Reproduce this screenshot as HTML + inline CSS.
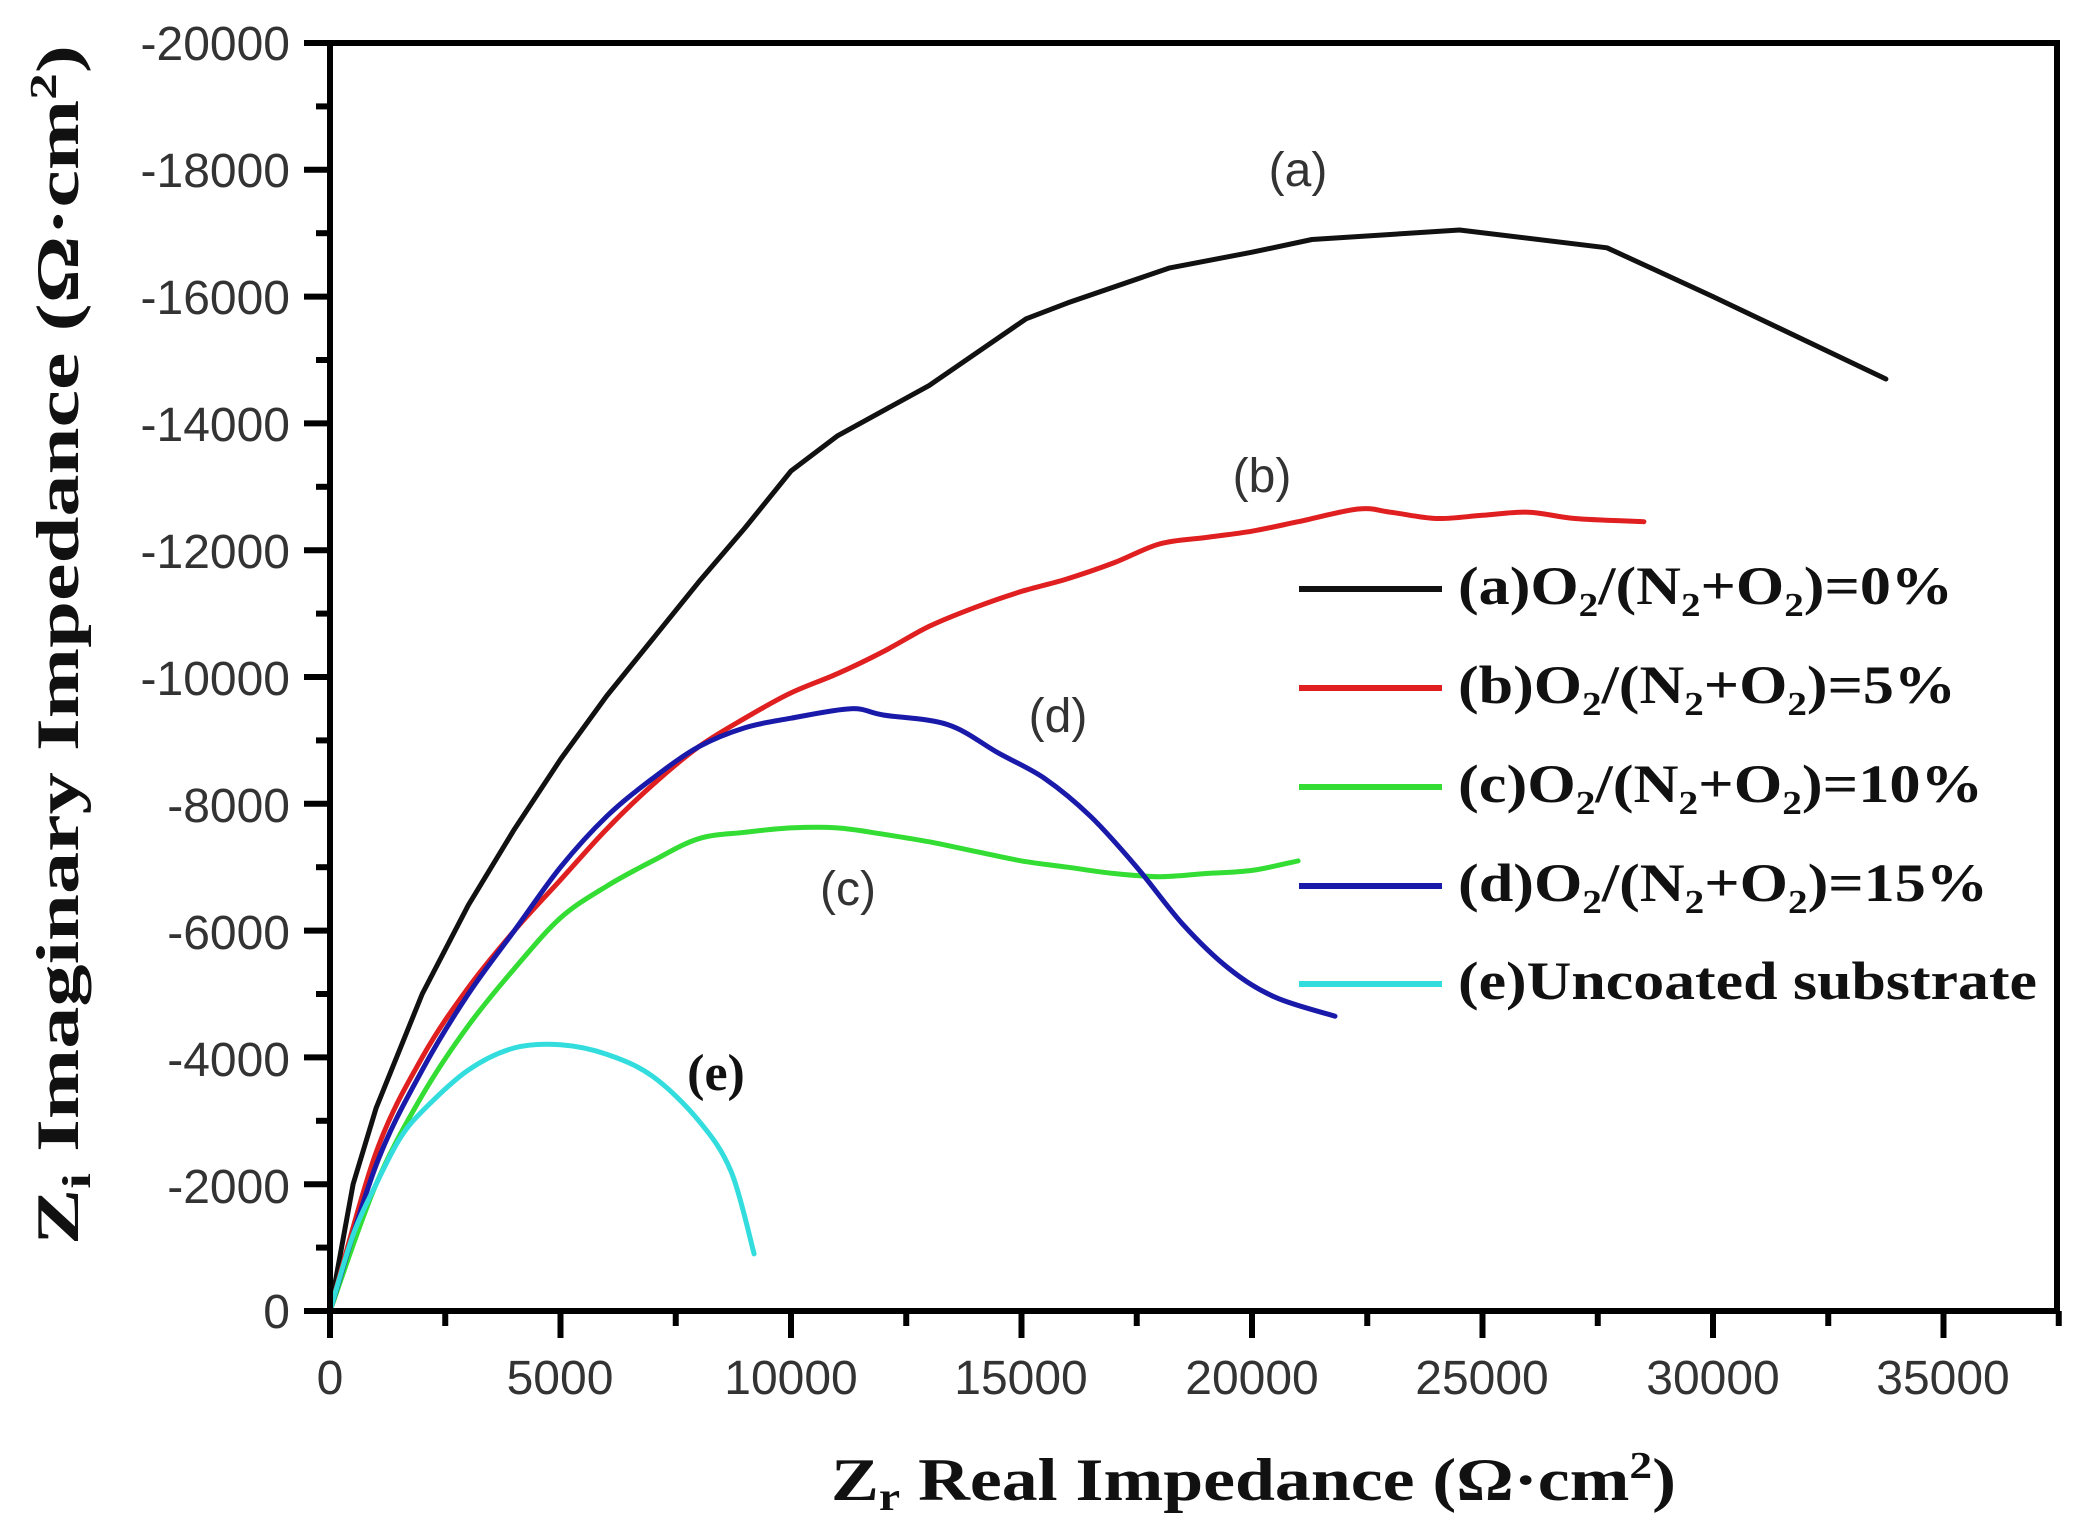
<!DOCTYPE html>
<html><head><meta charset="utf-8"><style>
html,body{margin:0;padding:0;background:#fff;}
svg{display:block;}
.t{font-family:"Liberation Sans",Arial,sans-serif;font-size:48px;fill:#333;}
.s{font-family:"Liberation Serif","Times New Roman",serif;font-weight:bold;fill:#111;}
.l{font-family:"Liberation Sans",Arial,sans-serif;font-size:48px;fill:#333;}
</style></head><body>
<svg id="c" width="2098" height="1536" viewBox="0 0 2098 1536" xmlns="http://www.w3.org/2000/svg">
<rect width="2098" height="1536" fill="#fff"/>
<g id="curves" fill="none" stroke-width="5" stroke-linejoin="round" stroke-linecap="round"></g>
<g id="ticks" stroke="#000" stroke-width="6"></g>
<rect x="330" y="43" width="1727" height="1268" fill="none" stroke="#000" stroke-width="6"/>
<g class="t" text-anchor="end">
<text x="290" y="60">-20000</text>
<text x="290" y="187">-18000</text>
<text x="290" y="314">-16000</text>
<text x="290" y="441">-14000</text>
<text x="290" y="568">-12000</text>
<text x="290" y="695">-10000</text>
<text x="290" y="822">-8000</text>
<text x="290" y="949">-6000</text>
<text x="290" y="1076">-4000</text>
<text x="290" y="1203">-2000</text>
<text x="290" y="1328">0</text>
</g>
<g class="t" text-anchor="middle">
<text x="330" y="1394">0</text>
<text x="560" y="1394">5000</text>
<text x="791" y="1394">10000</text>
<text x="1021" y="1394">15000</text>
<text x="1252" y="1394">20000</text>
<text x="1482" y="1394">25000</text>
<text x="1713" y="1394">30000</text>
<text x="1943" y="1394">35000</text>
</g>
<text class="s" x="831" y="1500" font-size="60" textLength="845" lengthAdjust="spacingAndGlyphs">Z<tspan font-size="40" dy="10">r</tspan><tspan dy="-10"> Real Impedance (Ω·cm</tspan><tspan font-size="38" dy="-22">2</tspan><tspan dy="22">)</tspan></text>
<text class="s" transform="translate(78,1245) rotate(-90)" font-size="60" textLength="1200" lengthAdjust="spacingAndGlyphs">Z<tspan font-size="40" dy="12">i</tspan><tspan dy="-12"> Imaginary Impedance (Ω·cm</tspan><tspan font-size="38" dy="-22">2</tspan><tspan dy="22">)</tspan></text>
<g class="l" text-anchor="middle">
<text x="1298" y="186">(a)</text>
<text x="1262" y="492">(b)</text>
<text x="1058" y="732">(d)</text>
<text x="848" y="905">(c)</text>
</g>
<text class="s" x="716" y="1090" font-size="52" text-anchor="middle">(e)</text>
<g stroke-width="6">
<line x1="1299" y1="589" x2="1442" y2="589" stroke="#111"/>
<line x1="1299" y1="688" x2="1442" y2="688" stroke="#e02020"/>
<line x1="1299" y1="787" x2="1442" y2="787" stroke="#33dd33"/>
<line x1="1299" y1="886" x2="1442" y2="886" stroke="#1a1aaa"/>
<line x1="1299" y1="984" x2="1442" y2="984" stroke="#33dddd"/>
</g>
<g class="s" font-size="54">
<text x="1458" y="604" textLength="495" lengthAdjust="spacingAndGlyphs">(a)O<tspan font-size="34" dy="12">2</tspan><tspan dy="-12">/(N</tspan><tspan font-size="34" dy="12">2</tspan><tspan dy="-12">+O</tspan><tspan font-size="34" dy="12">2</tspan><tspan dy="-12">)=0%</tspan></text>
<text x="1458" y="703" textLength="498" lengthAdjust="spacingAndGlyphs">(b)O<tspan font-size="34" dy="12">2</tspan><tspan dy="-12">/(N</tspan><tspan font-size="34" dy="12">2</tspan><tspan dy="-12">+O</tspan><tspan font-size="34" dy="12">2</tspan><tspan dy="-12">)=5%</tspan></text>
<text x="1458" y="802" textLength="525" lengthAdjust="spacingAndGlyphs">(c)O<tspan font-size="34" dy="12">2</tspan><tspan dy="-12">/(N</tspan><tspan font-size="34" dy="12">2</tspan><tspan dy="-12">+O</tspan><tspan font-size="34" dy="12">2</tspan><tspan dy="-12">)=10%</tspan></text>
<text x="1458" y="901" textLength="530" lengthAdjust="spacingAndGlyphs">(d)O<tspan font-size="34" dy="12">2</tspan><tspan dy="-12">/(N</tspan><tspan font-size="34" dy="12">2</tspan><tspan dy="-12">+O</tspan><tspan font-size="34" dy="12">2</tspan><tspan dy="-12">)=15%</tspan></text>
<text x="1458" y="999" textLength="579" lengthAdjust="spacingAndGlyphs">(e)Uncoated substrate</text>
</g>
</svg>
<script>
(function(){
var NS="http://www.w3.org/2000/svg";
function X(x){return 330+x*0.04610;}
function Y(m){return 1311-m*0.0634;}
var t=document.getElementById('ticks');
function ln(x1,y1,x2,y2){var l=document.createElementNS(NS,'line');l.setAttribute('x1',x1);l.setAttribute('y1',y1);l.setAttribute('x2',x2);l.setAttribute('y2',y2);t.appendChild(l);}
for(var m=0;m<=20000;m+=1000){var y=Y(m);ln(330,y,m%2000==0?304:316,y);}
for(var x=0;x<=37500;x+=2500){var px=X(x);ln(px,1311,px,x%5000==0?1338:1326);}
var S=[
["#111",0,[[0,0],[500,2000],[1000,3200],[2000,5000],[3000,6400],[4000,7600],[5000,8700],[6000,9700],[7000,10600],[8000,11500],[9000,12350],[10000,13250],[11000,13800],[13000,14600],[15100,15650],[16000,15900],[18200,16450],[20000,16700],[21300,16900],[24500,17050],[27700,16770],[30000,16000],[33750,14700]]],
["#e02020",1,[[0,0],[1000,2500],[2000,4000],[3000,5100],[4000,6000],[5000,6800],[6000,7600],[7000,8300],[8000,8900],[9000,9350],[10000,9750],[11000,10050],[12000,10400],[13000,10800],[14000,11100],[15000,11350],[16000,11550],[17000,11800],[18000,12100],[19000,12200],[20000,12300],[21000,12450],[22300,12650],[23000,12600],[24000,12500],[25000,12550],[26000,12600],[27000,12500],[28500,12450]]],
["#33dd33",1,[[0,0],[1000,2000],[2000,3400],[3000,4500],[4000,5400],[5000,6200],[6000,6700],[7000,7100],[8000,7450],[9000,7550],[10000,7620],[11000,7620],[12000,7520],[13000,7400],[14000,7250],[15000,7100],[16000,7000],[17000,6900],[18000,6850],[19000,6900],[20000,6950],[21000,7100]]],
["#1a1aaa",1,[[0,0],[1000,2300],[2000,3800],[3000,5000],[4000,6000],[5000,7000],[6000,7800],[7000,8400],[8000,8900],[9000,9200],[10000,9350],[11300,9500],[12000,9400],[13400,9250],[14500,8800],[15500,8400],[16500,7800],[17500,7000],[18500,6100],[19500,5400],[20500,4950],[21800,4650]]],
["#33dddd",1,[[0,0],[500,1200],[1000,2000],[1500,2700],[2000,3150],[3000,3800],[4000,4150],[5000,4200],[6000,4050],[7000,3700],[8000,3000],[8700,2200],[9200,900]]]
];
var g=document.getElementById('curves');
S.forEach(function(s){
 var p=s[2].map(function(q){return [X(q[0]),Y(q[1])];}),d='M'+p[0][0].toFixed(1)+' '+p[0][1].toFixed(1);
 for(var i=1;i<p.length;i++){
  if(!s[1]){d+='L'+p[i][0].toFixed(1)+' '+p[i][1].toFixed(1);continue;}
  var p0=p[Math.max(i-2,0)],p1=p[i-1],p2=p[i],p3=p[Math.min(i+1,p.length-1)];
  var c1x=p1[0]+(p2[0]-p0[0])/6,c1y=p1[1]+(p2[1]-p0[1])/6,c2x=p2[0]-(p3[0]-p1[0])/6,c2y=p2[1]-(p3[1]-p1[1])/6;
  d+='C'+c1x.toFixed(1)+' '+c1y.toFixed(1)+' '+c2x.toFixed(1)+' '+c2y.toFixed(1)+' '+p2[0].toFixed(1)+' '+p2[1].toFixed(1);
 }
 var e=document.createElementNS(NS,'path');e.setAttribute('d',d);e.setAttribute('stroke',s[0]);g.appendChild(e);
});
})();
</script>
</body></html>
